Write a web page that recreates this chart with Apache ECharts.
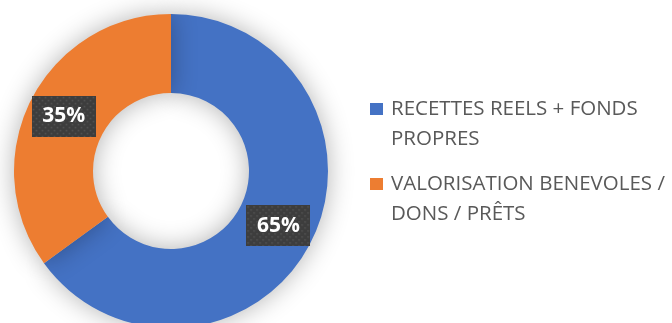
<!DOCTYPE html>
<html>
<head>
<meta charset="utf-8">
<script src="https://cdn.jsdelivr.net/npm/echarts@6/dist/echarts.min.js"></script>
<style>
  html, body { margin: 0; padding: 0; background: #ffffff; }
  #chart { width: 672px; height: 323px; }
</style>
</head>
<body>
<div id="chart"></div>
<script>
// Share of funding sources (percent)
const categories = ['RECETTES REELS + FONDS PROPRES', 'VALORISATION BENEVOLES / DONS / PRÊTS'];
const legendLines = [['RECETTES REELS + FONDS', 'PROPRES'], ['VALORISATION BENEVOLES /', 'DONS / PRÊTS']];
const shares = [65, 35];
const colors = ['#4472C4', '#ED7D31'];

// Dark dotted tile used behind the percentage labels
function dottedTile(w, h) {
  const c = document.createElement('canvas');
  c.width = w; c.height = h;
  const g = c.getContext('2d');
  g.fillStyle = '#3d3d3d';
  g.fillRect(0, 0, w, h);
  g.fillStyle = '#575757';
  for (let y = 1, row = 0; y < h; y += 3, row++) {
    for (let x = (row % 2) * 3 + 1; x < w; x += 6) {
      g.fillRect(x, y, 1.5, 1.5);
    }
  }
  return c;
}
const tile = dottedTile(64, 41);

const chart = echarts.init(document.getElementById('chart'), null, { renderer: 'canvas' });

function legendFor(i, top) {
  return {
    orient: 'vertical',
    left: 370,
    top: top,
    padding: 0,
    data: [categories[i]],
    itemWidth: 13,
    itemHeight: 12,
    itemGap: 0,
    icon: 'rect',
    selectedMode: false,
    formatter: () => '\n' + legendLines[i].join('\n'),
    textStyle: {
      fontFamily: 'Open Sans',
      fontSize: 20.5,
      color: '#595959',
      lineHeight: 30,
      padding: [0, 0, 0, 3]
    }
  };
}

chart.setOption({
  animation: false,
  color: colors,
  legend: [legendFor(0, 64), legendFor(1, 139)],
  series: [{
    type: 'pie',
    center: [171, 171],
    radius: [78, 157],
    startAngle: 90,
    clockwise: true,
    avoidLabelOverlap: false,
    itemStyle: {
      shadowBlur: 26,
      shadowColor: 'rgba(0,0,0,0.3)',
      shadowOffsetX: 0,
      shadowOffsetY: 0
    },
    label: {
      show: true,
      position: 'inside',
      formatter: '{c}%',
      fontFamily: 'Open Sans',
      fontWeight: 'bold',
      fontSize: 21,
      color: '#ffffff',
      lineHeight: 23,
      width: 44,
      align: 'center',
      padding: [10, 10, 8, 10],
      backgroundColor: { image: tile },
      shadowColor: 'rgba(0,0,0,0.55)',
      shadowBlur: 7,
      shadowOffsetX: 3,
      shadowOffsetY: 3
    },
    labelLine: { show: false },
    emphasis: { disabled: true },
    data: categories.map((name, i) => ({ name: name, value: shares[i] }))
  }]
});
</script>
</body>
</html>
